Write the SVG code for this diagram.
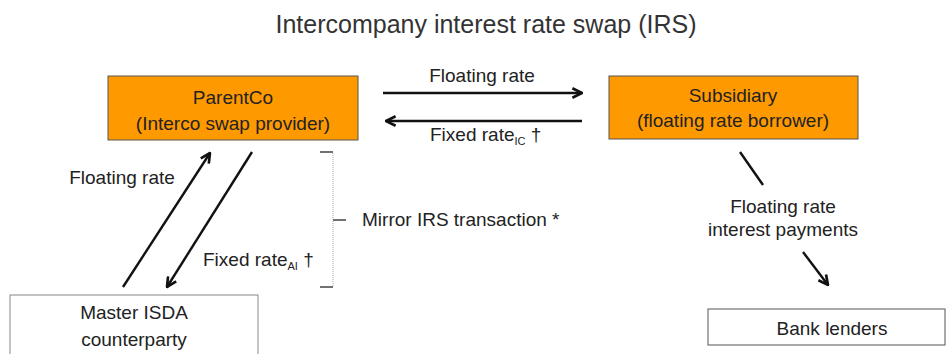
<svg xmlns="http://www.w3.org/2000/svg" width="948" height="354" viewBox="0 0 948 354">
<defs>
<marker id="ah" viewBox="0 0 10 10" refX="9" refY="5" markerWidth="5" markerHeight="5" orient="auto" markerUnits="strokeWidth">
<path d="M1,1 L9,5 L1,9" fill="none" stroke="#111" stroke-width="2.2" stroke-linejoin="miter"/>
</marker>
</defs>
<style>
text{font-family:"Liberation Sans",Arial,sans-serif;font-size:19px;fill:#222}
.t{font-size:25px;fill:#333}
.m{text-anchor:middle}
.sub{font-size:11px}
.org{fill:#FF9900;stroke:#555;stroke-width:1}
.wht{fill:#fff;stroke:#888;stroke-width:1}
.ar{stroke:#111;stroke-width:2.4;fill:none;marker-end:url(#ah)}
.ln{stroke:#111;stroke-width:2.4;fill:none}
.br{stroke:#aaa;stroke-width:1;stroke-dasharray:1 1;fill:none}
.tk{stroke:#444;stroke-width:1.3;fill:none}
</style>
<rect width="948" height="354" fill="#fff"/>
<text class="t m" x="486" y="33">Intercompany interest rate swap (IRS)</text>
<g id="parentco">
<rect class="org" x="108" y="76" width="250" height="64"/>
<text class="m" x="233" y="104">ParentCo</text>
<text class="m" x="233" y="130">(Interco swap provider)</text>
</g>
<g id="subsidiary">
<rect class="org" x="609" y="76" width="249" height="63"/>
<text class="m" x="733" y="102">Subsidiary</text>
<text class="m" x="733" y="127">(floating rate borrower)</text>
</g>
<g id="master-isda">
<rect class="wht" x="10" y="295" width="248" height="70"/>
<text class="m" x="134" y="319">Master ISDA</text>
<text class="m" x="134" y="346">counterparty</text>
</g>
<g id="bank-lenders">
<rect class="wht" x="708" y="309" width="237" height="36" style="stroke:#555"/>
<text class="m" x="832" y="335">Bank lenders</text>
</g>
<g id="connectors">
<line class="ar" x1="383" y1="93" x2="582" y2="93"/>
<line class="ar" x1="582" y1="121" x2="386" y2="121"/>
<line class="ar" x1="123" y1="287" x2="210" y2="153"/>
<line class="ar" x1="252" y1="152" x2="167" y2="287"/>
<line class="ln" x1="740" y1="152" x2="763" y2="185"/>
<line class="ar" x1="803" y1="252" x2="828" y2="285"/>
<path class="br" d="M333,153 V286"/>
<path class="tk" d="M320,152 H333 M320,287 H333 M333,220 H346"/>
</g>
<g id="labels">
<text class="m" x="482" y="82">Floating rate</text>
<text x="430" y="141">Fixed rate<tspan class="sub" dy="4">IC</tspan><tspan dy="-4"> †</tspan></text>
<text class="m" x="122" y="184">Floating rate</text>
<text x="203" y="266">Fixed rate<tspan class="sub" dy="4">AI</tspan><tspan dy="-4"> †</tspan></text>
<text x="362" y="226">Mirror IRS transaction *</text>
<text class="m" x="783" y="213">Floating rate</text>
<text class="m" x="783" y="236">interest payments</text>
</g>
</svg>
